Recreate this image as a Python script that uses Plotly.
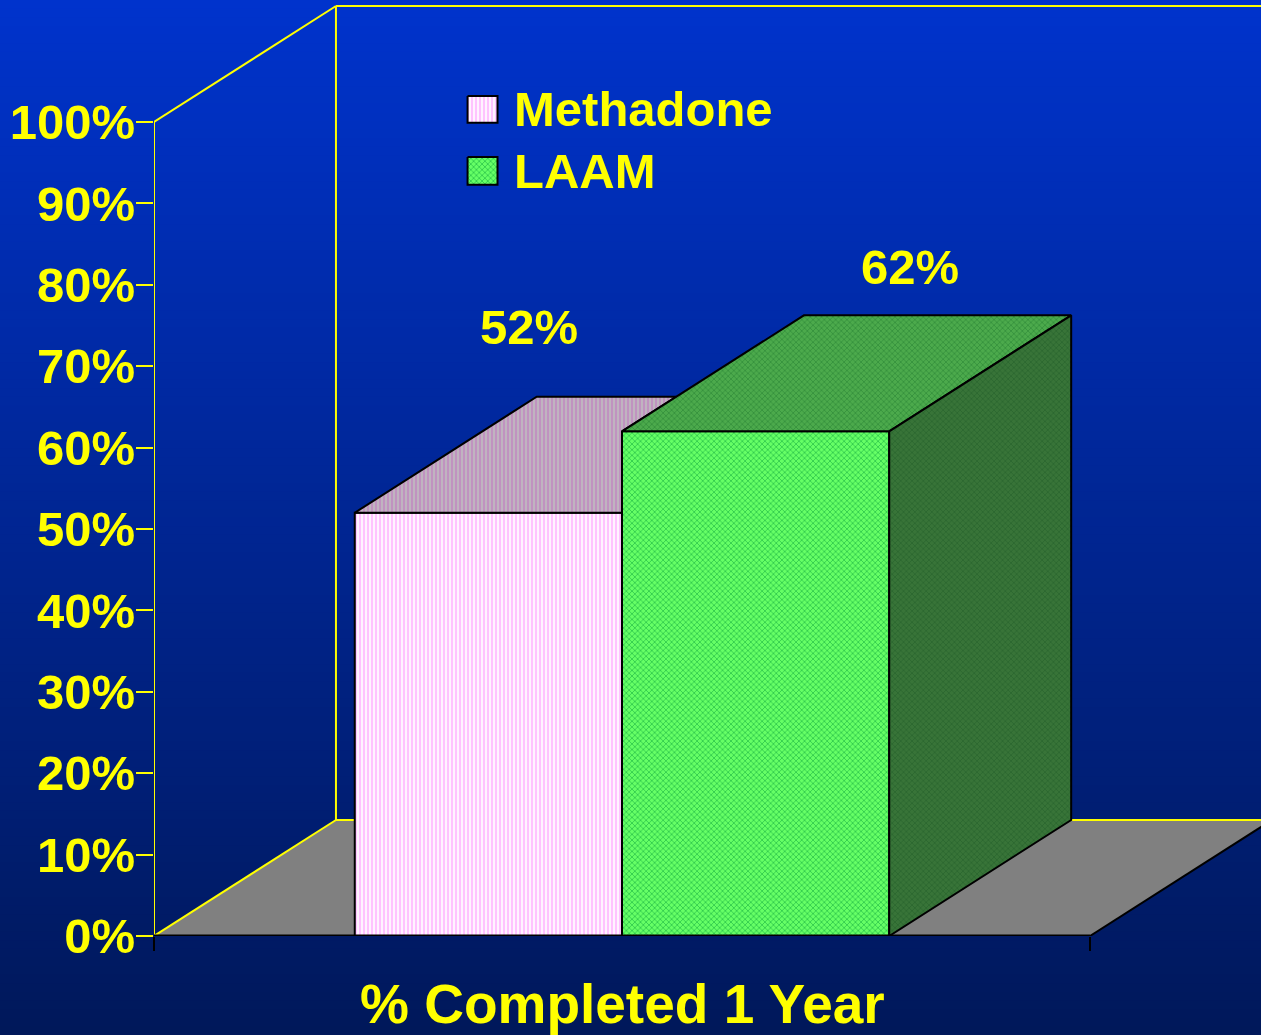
import plotly.graph_objects as go

series = ['Methadone', 'LAAM']
values = [52, 62]
tick_vals = [0, 10, 20, 30, 40, 50, 60, 70, 80, 90, 100]
tick_text = ['0%', '10%', '20%', '30%', '40%', '50%', '60%', '70%', '80%', '90%', '100%']
category_label = '% Completed 1 Year'

# oblique offset of the fake 3d box, in axis units
depth_x = 0.1944
depth_y = 14.25
bar_width = 0.2855
center = 0.5
x_end = 1.1827

YELLOW = '#FFFF00'
FONT = 'Liberation Sans, Arial, sans-serif'


def lerp_color(c0, c1, t):
    return 'rgb(%d,%d,%d)' % tuple(round(a + (b - a) * t) for a, b in zip(c0, c1))


def poly(xs, ys, pattern, line='black'):
    return go.Scatter(x=xs + xs[:1], y=ys + ys[:1], mode='lines', fill='toself',
                      fillpattern=pattern, line=dict(color=line, width=2),
                      hoverinfo='skip', showlegend=False)


def seg(xs, ys, color, width=2):
    return go.Scatter(x=xs, y=ys, mode='lines', line=dict(color=color, width=width),
                      hoverinfo='skip', showlegend=False, cliponaxis=False)


pink_front = dict(shape='|', size=4, solidity=0.6, fgcolor='#FF88FF', bgcolor='#FFFFFF')
pink_top = dict(shape='|', size=4, solidity=0.4, fgcolor='#C060C0', bgcolor='#C0B4C0')
green_front = dict(shape='x', size=4, solidity=0.4, fgcolor='#009933', bgcolor='#66FF66')
green_top = dict(shape='x', size=4, solidity=0.4, fgcolor='#1E7A2E', bgcolor='#4CAA4C')
green_side = dict(shape='x', size=4, solidity=0.4, fgcolor='#1E5A28', bgcolor='#387438')

left = center - bar_width
right = center + bar_width
m, l = values

fig = go.Figure()

# the two front faces are the real bars
fig.add_trace(go.Bar(x=[center], y=[m], width=bar_width, offset=-bar_width, name=series[0],
                     marker=dict(pattern=pink_front, line=dict(color='black', width=2))))
fig.add_trace(go.Bar(x=[center], y=[l], width=bar_width, offset=0, name=series[1],
                     marker=dict(pattern=green_front, line=dict(color='black', width=2))))

# walls
fig.add_trace(seg([0, 0], [0, 100], YELLOW))
fig.add_trace(seg([0, depth_x], [100, 100 + depth_y], YELLOW))
fig.add_trace(seg([0, depth_x], [0, depth_y], YELLOW))
fig.add_trace(seg([depth_x, depth_x], [depth_y, 100 + depth_y], YELLOW))
fig.add_trace(seg([depth_x, x_end], [100 + depth_y, 100 + depth_y], YELLOW))
fig.add_trace(go.Scatter(x=[1, 1 + depth_x], y=[0, depth_y], mode='lines',
                         line=dict(color='black', width=2), hoverinfo='skip', showlegend=False))
fig.add_trace(seg([0, 1], [0, 0], 'black', 3))

# methadone top, cut where the LAAM box starts
cut = center + (m + depth_y - l) / depth_y * depth_x
fig.add_trace(poly([left, left + depth_x, cut, center, center],
                   [m, m + depth_y, m + depth_y, l, m], pink_top))

# LAAM top and side
fig.add_trace(poly([center, center + depth_x, right + depth_x, right],
                   [l, l + depth_y, l + depth_y, l], green_top))
fig.add_trace(poly([right, right + depth_x, right + depth_x, right],
                   [l, l + depth_y, depth_y, 0], green_side))

# legend swatches
fig.add_trace(poly([0.335, 0.367, 0.367, 0.335], [103.2, 103.2, 99.9, 99.9], pink_front))
fig.add_trace(poly([0.335, 0.367, 0.367, 0.335], [95.7, 95.7, 92.3, 92.3], green_front))

annotations = [
    dict(x=0.383, y=101.6, text=series[0], xanchor='left'),
    dict(x=0.383, y=94.0, text=series[1], xanchor='left'),
    dict(x=left + bar_width / 2 + 0.043, y=m + 22.8, text='%d%%' % m, xanchor='center'),
    dict(x=center + bar_width / 2 + 0.165, y=l + 20.2, text='%d%%' % l, xanchor='center'),
]
for a in annotations:
    a.update(showarrow=False, font=dict(family=FONT, size=49, color=YELLOW, weight='bold'))
annotations.append(dict(x=center, y=-0.073, yref='paper', text=category_label, showarrow=False,
                        xanchor='center', yanchor='middle',
                        font=dict(family=FONT, size=55, color=YELLOW, weight='bold')))

# background gradient in strips
steps = 120
shapes = []
for i in range(steps):
    shapes.append(dict(type='rect', xref='paper', yref='paper', layer='below',
                       x0=-0.15, x1=1.01,
                       y0=1 - (i + 1.5) / steps * 1035 / 936, y1=1 - i / steps * 1035 / 936,
                       fillcolor=lerp_color((0, 51, 204), (0, 24, 90), i / (steps - 1)),
                       line=dict(width=0)))

# floor and its back edge sit behind the bars
shapes.append(dict(type='path', layer='below', xref='x', yref='y', fillcolor='#808080',
                   path='M 0 0 L %f %f L %f %f L 1 0 Z' % (depth_x, depth_y, 1 + depth_x, depth_y),
                   line=dict(width=0)))
shapes.append(dict(type='line', layer='below', xref='x', yref='y', x0=depth_x, x1=x_end,
                   y0=depth_y, y1=depth_y, line=dict(color=YELLOW, width=2)))

fig.update_layout(
    width=1261, height=1035, autosize=False,
    margin=dict(l=154, r=0, t=0, b=99),
    paper_bgcolor='#00185A', plot_bgcolor='rgba(0,0,0,0)',
    barmode='overlay', showlegend=False, shapes=shapes, annotations=annotations,
    xaxis=dict(range=[0, x_end], tickvals=[0, 1], ticktext=['', ''], ticks='outside',
               ticklen=14, tickwidth=2, tickcolor='black', showgrid=False, zeroline=False,
               showline=False),
    yaxis=dict(range=[0, 114.99], tickvals=tick_vals, ticktext=tick_text, ticks='outside',
               ticklen=17, tickwidth=2, tickcolor=YELLOW, showgrid=False, zeroline=False,
               showline=False, ticklabelstandoff=-9,
               tickfont=dict(family=FONT, size=49, color=YELLOW, weight='bold')),
)

fig.write_html("out.html", config=dict(displayModeBar=False),
               post_script="document.body.style.margin='0';document.body.style.overflow='hidden';")
